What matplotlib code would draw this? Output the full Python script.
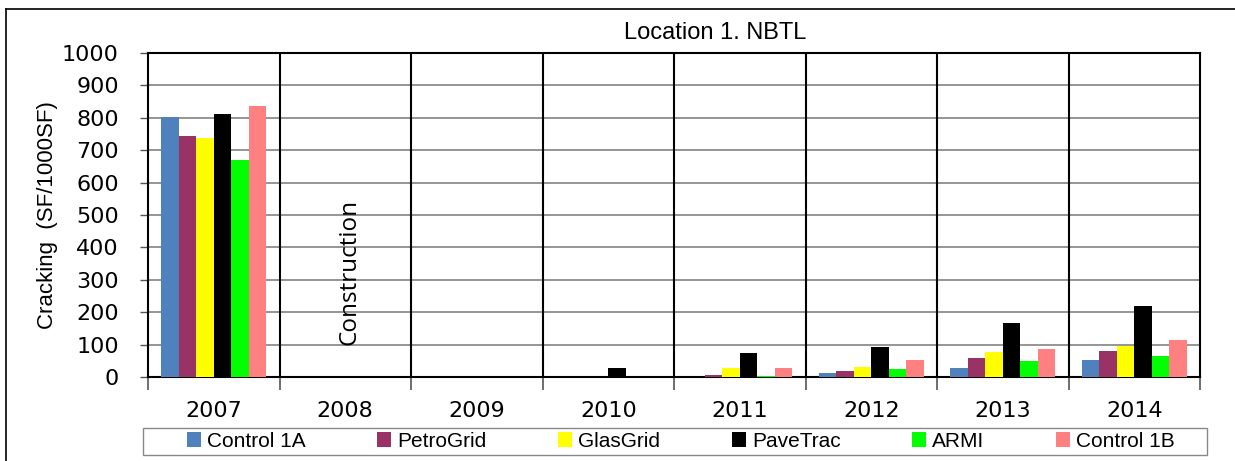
import matplotlib
matplotlib.use("Agg")
import matplotlib.pyplot as plt
import numpy as np
from matplotlib.lines import Line2D
from matplotlib.patches import Rectangle

years = ["2007", "2008", "2009", "2010", "2011", "2012", "2013", "2014"]
series_names = ["Control 1A", "PetroGrid", "GlasGrid", "PaveTrac", "ARMI", "Control 1B"]
colors = ["#4F81BD", "#993366", "#FFFF00", "#000000", "#00FF00", "#FF8080"]

control_1a = [802, 0, 0, 0, 0, 11, 27, 52]
petrogrid = [744, 0, 0, 0, 5, 18, 60, 80]
glasgrid = [738, 0, 0, 0, 28, 32, 76, 97]
pavetrac = [812, 0, 0, 28, 74, 93, 168, 218]
armi = [670, 0, 0, 0, 4, 25, 48, 65]
control_1b = [836, 0, 0, 0, 27, 51, 86, 113]
series = [control_1a, petrogrid, glasgrid, pavetrac, armi, control_1b]

W, H = 1235, 461
fig = plt.figure(figsize=(W / 100, H / 100), dpi=100)
ax = fig.add_axes([148 / W, 1 - 377 / H, (1200 - 148) / W, (377 - 53) / H])

x = np.arange(len(years))
bw = 0.8 / len(series)
for i, (vals, c, name) in enumerate(zip(series, colors, series_names)):
    ax.bar(x - 0.4 + bw * (i + 0.5), vals, width=bw, color=c, label=name, zorder=3)

ax.set_xlim(-0.5, len(years) - 0.5)
ax.set_ylim(0, 1000)
ax.set_yticks(np.arange(0, 1001, 100))
ax.yaxis.grid(True, color="#8c8c8c", lw=1.3, zorder=0)
for b in np.arange(0.5, len(years) - 1, 1.0):
    ax.axvline(b, color="black", lw=1.5, zorder=4)

ax.set_xticks(np.arange(-0.5, len(years), 1.0))
ax.set_xticklabels([])
ax.set_xticks(x, minor=True)
ax.set_xticklabels(years, minor=True)
ax.tick_params(axis="x", which="major", length=9, width=1.2, color="#555555", direction="out")
ax.tick_params(axis="x", which="minor", length=0, pad=17, labelsize=16)
ax.tick_params(axis="y", length=6, width=1.0, color="#555555", labelsize=16, pad=15)
for lbl in ax.get_xticklabels(minor=True) + ax.get_yticklabels():
    lbl.set_fontfamily("DejaVu Sans")

for s in ax.spines.values():
    s.set_color("black")
    s.set_linewidth(1.5)

ax.set_ylabel("Cracking  (SF/1000SF)", fontsize=16, family="Liberation Sans", labelpad=3)

ax.text(1.03, 324, "Construction", rotation=90, ha="center", va="center",
        fontsize=17.5, family="Open Sans", zorder=5)

fig.text(715 / W, 1 - 33 / H, "Location 1. NBTL", ha="center", va="center",
         fontsize=17, family="Liberation Sans")

leg = fig.legend(loc="center", bbox_to_anchor=(681 / W, 1 - 441 / H), ncol=6,
                 frameon=False,
                 prop={"family": "Liberation Sans", "size": 15},
                 handlelength=0.65, handleheight=0.7, handletextpad=0.3,
                 columnspacing=3.45, borderpad=0.15)

# legend box
fig.add_artist(Rectangle((143 / W, 1 - 455 / H), (1207 - 143) / W, (455 - 428) / H,
                         transform=fig.transFigure, fill=False, edgecolor="#888888", lw=1.0))

# outer chart-area border (left and top)
fig.add_artist(Line2D([6 / W, 6 / W], [0, 1 - 9 / H], transform=fig.transFigure, color="black", lw=1.2))
fig.add_artist(Line2D([6 / W, 1], [1 - 9 / H, 1 - 9 / H], transform=fig.transFigure, color="black", lw=1.2))

fig.savefig("out.png", dpi=100)
